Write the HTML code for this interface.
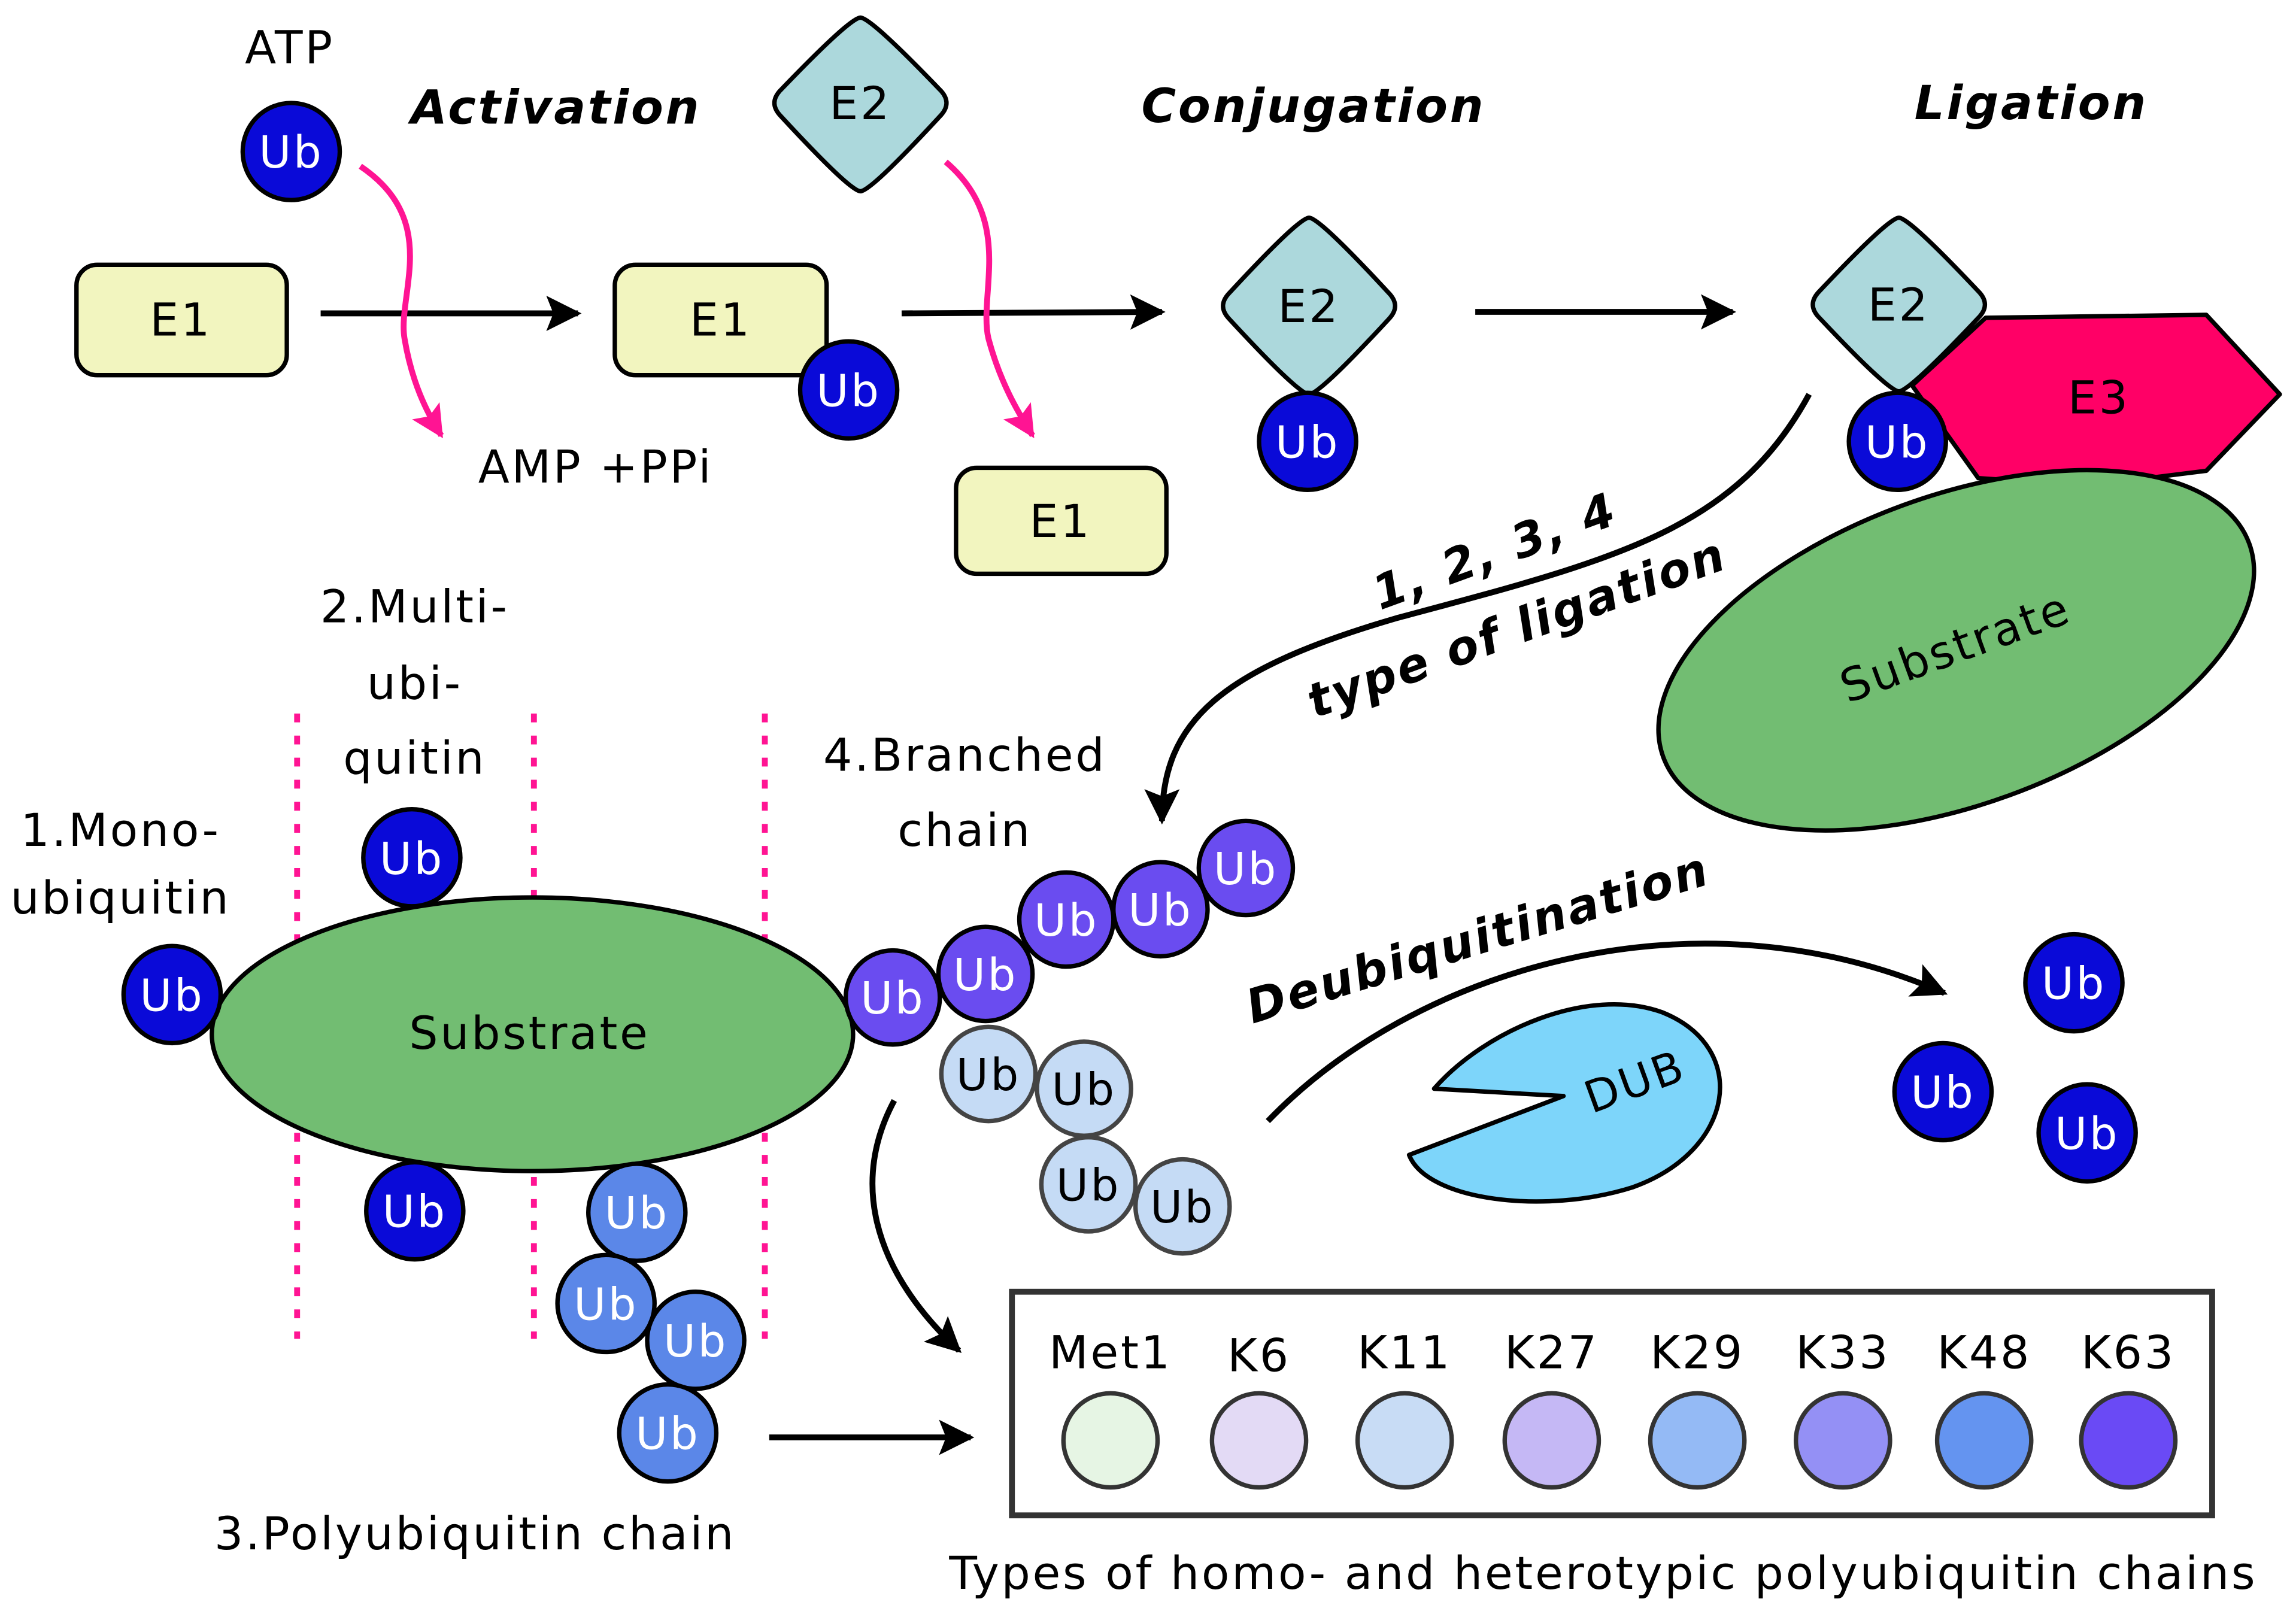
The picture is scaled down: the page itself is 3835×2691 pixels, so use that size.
<!DOCTYPE html>
<html><head><meta charset="utf-8"><style>html,body{margin:0;padding:0;background:#fff}svg{display:block}text{font-family:"DejaVu Sans","Liberation Sans",sans-serif;letter-spacing:1.5px}</style></head><body>
<svg width="3835" height="2691" viewBox="0 0 1561 1095" preserveAspectRatio="none" xmlns="http://www.w3.org/2000/svg">
<defs>
<marker id="a" viewBox="0 0 10 10" markerWidth="30" markerHeight="24" refX="9" refY="5" orient="auto" markerUnits="userSpaceOnUse"><path d="M0,0 L10,5 L0,10 L2,5 z" fill="#000"/></marker>
<marker id="ap" viewBox="0 0 10 10" markerWidth="26" markerHeight="22" refX="9" refY="5" orient="auto" markerUnits="userSpaceOnUse"><path d="M0,0 L10,5 L0,10 L2,5 z" fill="#ff1493"/></marker>
</defs>
<rect width="1561" height="1095" fill="#fff"/>
<g font-size="31" text-anchor="middle">
<text x="197" y="43">ATP</text>
<text x="405" y="328">AMP  +PPi</text>
<text x="282" y="423">2.Multi-</text><text x="282" y="475">ubi-</text><text x="282" y="526">quitin</text>
<text x="82" y="575">1.Mono-</text><text x="82" y="621">ubiquitin</text>
<text x="656" y="524">4.Branched</text><text x="656" y="575">chain</text>
<text x="323" y="1053">3.Polyubiquitin chain</text>
<text x="1090" y="1080">Types of homo- and heterotypic polyubiquitin chains</text>
</g>
<g font-size="32" font-weight="bold" font-style="italic" text-anchor="middle">
<text x="378" y="84">Activation</text>
<text x="893" y="83">Conjugation</text>
<text x="1381" y="81">Ligation</text>
<text transform="translate(1020,385) rotate(-20)">1, 2, 3, 4</text>
<text transform="translate(1035,437) rotate(-20)">type of ligation</text>
<text transform="translate(1008,648) rotate(-17)">Deubiquitination</text>
</g>
<g stroke="#000" stroke-width="4" fill="none">
<line x1="218" y1="213" x2="393" y2="213" marker-end="url(#a)"/>
<line x1="613" y1="213" x2="790" y2="212" marker-end="url(#a)"/>
<line x1="1003" y1="212" x2="1178" y2="212" marker-end="url(#a)"/>
<path d="M1230,268 C1180,360 1100,380 950,420 C830,455 790,490 790,558" marker-end="url(#a)"/>
<path d="M608,748 C580,800 590,860 652,918" marker-end="url(#a)"/>
<line x1="523" y1="977" x2="660" y2="977" marker-end="url(#a)"/>
<path d="M862,762 C960,660 1150,600 1322,675" marker-end="url(#a)"/>
</g>
<g stroke="#ff1493" stroke-width="4" fill="none">
<path d="M245,113 C300,150 270,200 275,230 C280,260 290,280 300,296" marker-end="url(#ap)"/>
<path d="M643,110 C690,150 665,200 672,230 C680,260 692,280 702,296" marker-end="url(#ap)"/>
<g stroke-dasharray="6,9" stroke-width="4"><line x1="202" y1="485" x2="202" y2="910"/><line x1="363" y1="485" x2="363" y2="910"/><line x1="520" y1="485" x2="520" y2="910"/></g>
</g>
<g fill="#f2f5bf" stroke="#000" stroke-width="3">
<rect x="52" y="180" width="143" height="75" rx="14"/>
<rect x="418" y="180" width="144" height="75" rx="14"/>
<rect x="650" y="318" width="143" height="72" rx="14"/>
</g>
<g font-size="31" text-anchor="middle"><text x="123" y="228">E1</text><text x="490" y="228">E1</text><text x="721" y="365">E1</text></g>
<path d="M1300,262 L1350,216 L1500,214 L1550,268 L1500,320 L1420,330 L1345,325 Z" fill="#ff0066" stroke="#000" stroke-width="3" stroke-linejoin="round"/>
<text x="1427" y="281" font-size="31" text-anchor="middle">E3</text>
<g fill="#acd8dc" stroke="#000" stroke-width="3" stroke-linejoin="round">
<path d="M585,12 Q592,12 640,62 Q647,70 640,78 Q592,130 585,130 Q578,130 530,78 Q523,70 530,62 Q578,12 585,12 Z"/>
<path d="M890,148 Q897,148 945,200 Q952,208 945,216 Q897,268 890,268 Q883,268 835,216 Q828,208 835,200 Q883,148 890,148 Z"/>
<path d="M1291,148 Q1298,148 1346,199 Q1353,207 1346,215 Q1298,266 1291,266 Q1284,266 1236,215 Q1229,207 1236,199 Q1284,148 1291,148 Z"/>
</g>
<g font-size="31" text-anchor="middle"><text x="585" y="81">E2</text><text x="890" y="219">E2</text><text x="1291" y="218">E2</text></g>
<ellipse cx="1330" cy="442" rx="212" ry="105" transform="rotate(-20 1330 442)" fill="#72bd72" stroke="#000" stroke-width="3"/>
<text transform="translate(1333,450) rotate(-20)" font-size="31" text-anchor="middle">Substrate</text>
<ellipse cx="362" cy="703" rx="218" ry="93" fill="#72bd72" stroke="#000" stroke-width="3"/>
<text x="360" y="713" font-size="31" text-anchor="middle">Substrate</text>
<path d="M1063,745 L975,740 C1010,700 1080,670 1130,688 C1190,712 1180,782 1110,807 C1050,826 970,816 958,785 Z" fill="#7dd5fa" stroke="#000" stroke-width="3" stroke-linejoin="round"/>
<text transform="translate(1115,745) rotate(-20)" font-size="30" text-anchor="middle">DUB</text>
<g stroke="#000" stroke-width="3">
<g fill="#0a0ad8">
<circle cx="198" cy="103" r="33"/><circle cx="577" cy="265" r="33"/><circle cx="889" cy="300" r="33"/><circle cx="1290" cy="300" r="33"/>
<circle cx="280" cy="583" r="33"/><circle cx="117" cy="676" r="33"/><circle cx="282" cy="823" r="33"/>
<circle cx="1410" cy="668" r="33"/><circle cx="1321" cy="742" r="33"/><circle cx="1419" cy="770" r="33"/>
</g>
<g fill="#5b87e8"><circle cx="433" cy="824" r="33"/><circle cx="412" cy="886" r="33"/><circle cx="473" cy="911" r="33"/><circle cx="454" cy="974" r="33"/></g>
<g fill="#6a4cf0"><circle cx="607" cy="678" r="32"/><circle cx="670" cy="662" r="32"/><circle cx="725" cy="625" r="32"/><circle cx="789" cy="618" r="32"/><circle cx="847" cy="590" r="32"/></g>
<g fill="#c5dbf5" stroke="#444"><circle cx="672" cy="730" r="32"/><circle cx="737" cy="740" r="32"/><circle cx="740" cy="805" r="32"/><circle cx="804" cy="820" r="32"/></g>
</g>
<g font-size="30" text-anchor="middle" fill="#fff">
<text x="198" y="114">Ub</text><text x="577" y="276">Ub</text><text x="889" y="311">Ub</text><text x="1290" y="311">Ub</text>
<text x="280" y="594">Ub</text><text x="117" y="687">Ub</text><text x="282" y="834">Ub</text>
<text x="1410" y="679">Ub</text><text x="1321" y="753">Ub</text><text x="1419" y="781">Ub</text>
<text x="433" y="835">Ub</text><text x="412" y="897">Ub</text><text x="473" y="922">Ub</text><text x="454" y="985">Ub</text>
<text x="607" y="689">Ub</text><text x="670" y="673">Ub</text><text x="725" y="636">Ub</text><text x="789" y="629">Ub</text><text x="847" y="601">Ub</text>
</g>
<g font-size="30" text-anchor="middle" fill="#000"><text x="672" y="741">Ub</text><text x="737" y="751">Ub</text><text x="740" y="816">Ub</text><text x="804" y="831">Ub</text></g>
<rect x="688" y="878" width="816" height="152" fill="none" stroke="#333" stroke-width="4"/>
<g stroke="#333" stroke-width="3">
<circle cx="755" cy="979" r="32" fill="#e6f5e4"/><circle cx="856" cy="979" r="32" fill="#e3daf5"/><circle cx="955" cy="979" r="32" fill="#c8dcf5"/><circle cx="1055" cy="979" r="32" fill="#c5b8f5"/>
<circle cx="1154" cy="979" r="32" fill="#94baf5"/><circle cx="1253" cy="979" r="32" fill="#9490f5"/><circle cx="1349" cy="979" r="32" fill="#6494f0"/><circle cx="1447" cy="979" r="32" fill="#6a4af5"/>
</g>
<g font-size="31" text-anchor="middle">
<text x="755" y="930">Met1</text><text x="856" y="932">K6</text><text x="955" y="930">K11</text><text x="1055" y="930">K27</text>
<text x="1154" y="930">K29</text><text x="1253" y="930">K33</text><text x="1349" y="930">K48</text><text x="1447" y="930">K63</text>
</g>
</svg>
</body></html>
